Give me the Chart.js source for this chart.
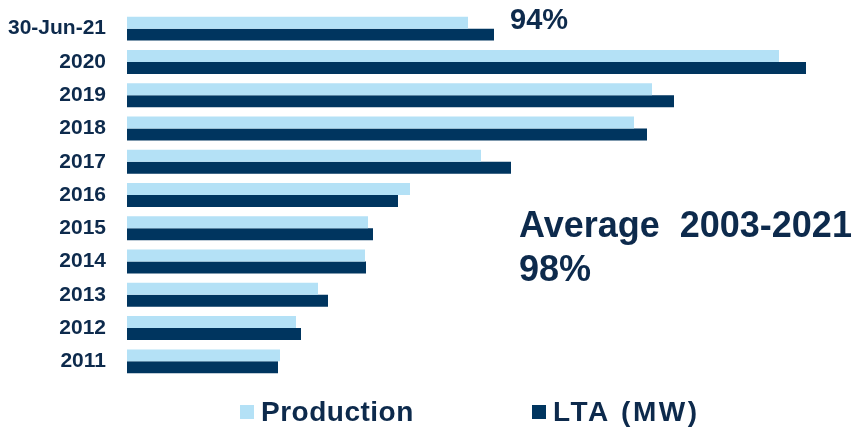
<!DOCTYPE html>
<html>
<head>
<meta charset="utf-8">
<script src="https://cdn.jsdelivr.net/npm/chart.js@4/dist/chart.umd.min.js"></script>
<style>
  html, body { margin: 0; padding: 0; background: #fff; }
  #wrap { width: 858px; height: 429px; position: relative; }
</style>
</head>
<body>
<div id="wrap"><canvas id="chart"></canvas></div>
<script>
// values (no axis shown, same units for both series)
const years = ['30-Jun-21', '2020', '2019', '2018', '2017', '2016', '2015', '2014', '2013', '2012', '2011'];
const production = [341, 652, 525, 507, 354, 283, 241, 238, 191, 169, 153];
const lta = [367, 679, 547, 520, 384, 271, 246, 239, 201, 174, 151];
const seriesNames = ['Production', 'LTA (MW)'];
const seriesColors = ['#b4e1f6', '#00355f'];
const noteTop = '94%';
const noteAvg = ['Average  2003-2021', '98%'];

const navy = '#0d2a4c';

// draws the notes and the bottom legend
const extras = {
  id: 'extras',
  afterDraw(chart) {
    const ctx = chart.ctx;
    ctx.save();
    ctx.fillStyle = navy;
    ctx.textBaseline = 'alphabetic';
    ctx.textAlign = 'left';

    ctx.font = 'bold 29px "Liberation Sans", Arial, sans-serif';
    ctx.fillText(noteTop, 510, 29);

    ctx.font = 'bold 36px "Liberation Sans", Arial, sans-serif';
    ctx.fillText(noteAvg[0], 519, 237);
    ctx.fillText(noteAvg[1], 519, 281);

    // legend
    const boxX = [240, 532];
    const spacing = ['0.5px', '2.5px'];
    ctx.font = 'bold 28px "Liberation Sans", Arial, sans-serif';
    chart.data.datasets.forEach((ds, i) => {
      ctx.fillStyle = ds.backgroundColor;
      ctx.fillRect(boxX[i], 405, 14, 14);
      ctx.fillStyle = navy;
      ctx.letterSpacing = spacing[i];
      ctx.fillText(ds.label, boxX[i] + 21, 421);
    });
    ctx.restore();
  }
};

new Chart(document.getElementById('chart'), {
  type: 'bar',
  data: {
    labels: years,
    datasets: [
      { label: seriesNames[0], data: production, backgroundColor: seriesColors[0] },
      { label: seriesNames[1], data: lta, backgroundColor: seriesColors[1] }
    ]
  },
  options: {
    indexAxis: 'y',
    responsive: true,
    maintainAspectRatio: false,
    animation: false,
    layout: { padding: { top: 12, bottom: 51, right: 0, left: 0 } },
    datasets: {
      bar: { categoryPercentage: 0.72, barPercentage: 1.0 }
    },
    scales: {
      x: { display: false, min: 0, max: 731 },
      y: {
        grid: { display: false, drawTicks: false },
        border: { display: false },
        ticks: {
          color: navy,
          padding: 21,
          font: { family: '"Liberation Sans", Arial, sans-serif', size: 21, weight: 'bold' }
        },
        afterFit(scale) {
          scale.width = 127;
          scale.paddingTop = 0;
          scale.paddingBottom = 0;
        }
      }
    },
    plugins: {
      legend: { display: false },
      tooltip: { enabled: false }
    }
  },
  plugins: [extras]
});
</script>
</body>
</html>
